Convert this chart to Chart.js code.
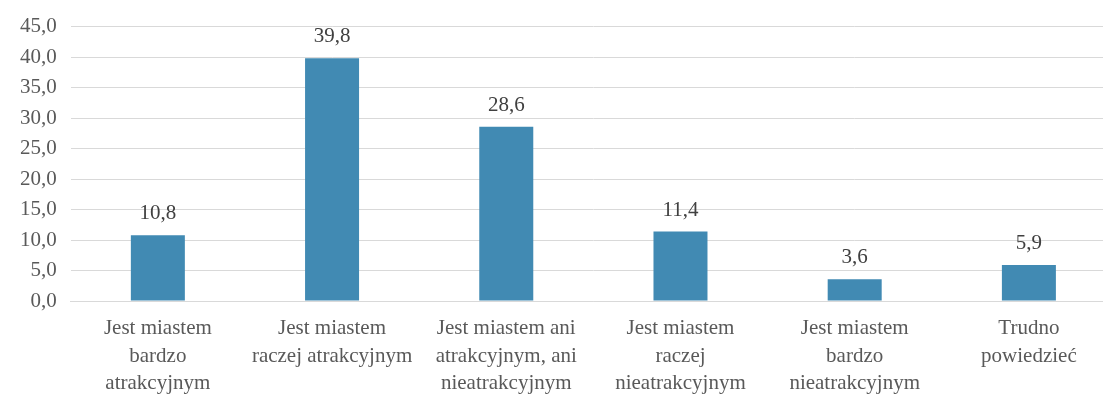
<!DOCTYPE html>
<html>
<head>
<meta charset="utf-8">
<script src="https://cdn.jsdelivr.net/npm/chart.js@4/dist/chart.umd.min.js"></script>
<style>
  html,body{margin:0;padding:0;background:#fff;overflow:hidden;}
  canvas{display:block;}
</style>
</head>
<body>
<canvas id="c" width="1116" height="411"></canvas>
<script>
// ---------- Dane ----------
const kategorie = [
  ['Jest miastem', 'bardzo', 'atrakcyjnym'],
  ['Jest miastem', 'raczej atrakcyjnym'],
  ['Jest miastem ani', 'atrakcyjnym, ani', 'nieatrakcyjnym'],
  ['Jest miastem', 'raczej', 'nieatrakcyjnym'],
  ['Jest miastem', 'bardzo', 'nieatrakcyjnym'],
  ['Trudno', 'powiedzieć'],
];
const wartosci = [10.8, 39.8, 28.6, 11.4, 3.6, 5.9];
const osY = { min: 0, max: 45, krok: 5 };

const FONT = "'Liberation Serif', 'DejaVu Serif', serif";
const SZARY = '#595959';
const fmt = v => v.toFixed(1).replace('.', ',');

// etykiety nad słupkami
const etykiety = {
  id: 'etykiety',
  afterDatasetsDraw(chart){
    const ctx = chart.ctx;
    const meta = chart.getDatasetMeta(0);
    ctx.save();
    ctx.font = '21px ' + FONT;
    ctx.fillStyle = '#404040';
    ctx.textAlign = 'center';
    ctx.textBaseline = 'bottom';
    meta.data.forEach((bar, i) => {
      ctx.fillText(fmt(wartosci[i]), bar.x, bar.y - 11);
    });
    ctx.restore();
  }
};

new Chart(document.getElementById('c'), {
  type: 'bar',
  data: {
    labels: kategorie,
    datasets: [{
      data: wartosci,
      backgroundColor: '#418AB3',
      borderWidth: 0,
      barPercentage: 0.31,
      categoryPercentage: 1
    }]
  },
  options: {
    responsive: false,
    animation: false,
    layout: { padding: { top: 12, right: 0, left: 6, bottom: 0 } },
    plugins: { legend: { display: false }, tooltip: { enabled: false } },
    scales: {
      x: {
        grid: { display: false, drawTicks: false },
        border: { color: '#d9d9d9', width: 1 },
        ticks: { color: SZARY, font: { family: FONT, size: 21, lineHeight: 1.3 }, padding: 14, maxRotation: 0, autoSkip: false }
      },
      y: {
        min: osY.min, max: osY.max,
        grid: { color: '#d9d9d9', lineWidth: 1, drawTicks: false },
        border: { display: false },
        ticks: { stepSize: osY.krok, color: SZARY, font: { family: FONT, size: 21 }, padding: 14, callback: v => fmt(v) }
      }
    }
  },
  plugins: [etykiety]
});
</script>
</body>
</html>
